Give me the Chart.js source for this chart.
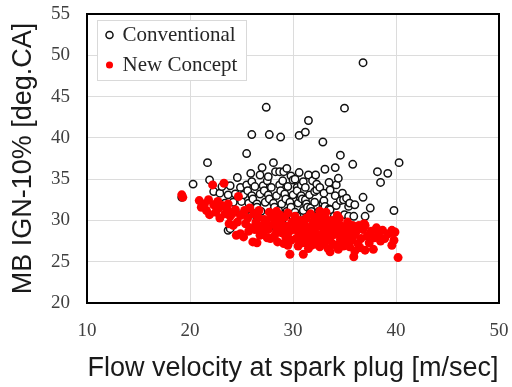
<!DOCTYPE html>
<html>
<head>
<meta charset="utf-8">
<script src="https://cdn.jsdelivr.net/npm/chart.js@4"></script>
<style>
  html, body { margin: 0; padding: 0; background: #fff; }
  #chart { display: block; }
</style>
</head>
<body>
<canvas id="chart" width="512" height="387"></canvas>
<script>
// series names and axis text
const seriesNames = ['Conventional', 'New Concept'];
const xTitle = 'Flow velocity at spark plug [m/sec]';
const yTitle = 'MB IGN-10% [deg.CA]';

// axis ranges: [min, max, step]
const xTicks = [10, 50, 10];
const yTicks = [20, 55, 5];

// [flow velocity, MB IGN-10%]
const conventional = [
  [19.2,32.8],[20.3,34.4],[21.7,37.0],[21.9,34.9],[22.3,33.5],[22.9,33.3],[23.1,34.1],[23.4,32.1],
  [23.7,33.1],[23.7,28.8],[23.9,34.2],[23.9,29.0],[24.2,32.2],[24.4,33.2],[24.4,31.1],[24.6,35.2],
  [24.9,34.0],[25.0,32.3],[25.2,33.1],[25.3,31.0],[25.5,34.3],[25.5,38.1],[25.6,33.6],[25.7,32.1],
  [25.9,35.7],[26.0,33.0],[26.0,34.7],[26.0,40.4],[26.1,31.2],[26.1,32.6],[26.3,34.1],[26.5,32.0],
  [26.5,31.6],[26.5,30.3],[26.8,33.2],[26.8,35.5],[26.8,29.8],[26.9,31.1],[27.0,36.4],[27.1,34.2],
  [27.2,33.6],[27.3,32.2],[27.4,43.7],[27.4,29.5],[27.5,34.8],[27.6,33.1],[27.6,35.3],[27.7,32.6],
  [27.7,40.4],[27.8,31.0],[27.9,34.0],[28.0,30.4],[28.1,32.1],[28.1,37.0],[28.2,31.6],[28.3,35.9],
  [28.4,33.0],[28.4,29.0],[28.6,31.2],[28.7,34.3],[28.7,35.9],[28.8,33.6],[28.8,40.1],[28.9,32.0],
  [29.0,34.8],[29.0,30.2],[29.0,29.5],[29.1,35.9],[29.2,33.2],[29.3,32.6],[29.4,31.1],[29.4,36.3],
  [29.5,34.1],[29.7,32.2],[29.8,31.6],[29.8,35.4],[30.0,33.1],[30.0,34.9],[30.0,30.3],[30.2,31.0],
  [30.2,35.0],[30.4,34.0],[30.4,33.6],[30.4,30.5],[30.5,32.1],[30.5,29.6],[30.6,40.3],[30.6,35.8],
  [30.7,32.8],[30.8,33.0],[30.8,34.3],[30.9,32.6],[31.0,31.2],[31.0,34.7],[31.2,34.0],[31.2,30.2],
  [31.2,32.5],[31.2,40.7],[31.3,32.0],[31.4,31.6],[31.5,35.5],[31.5,42.1],[31.6,33.1],[31.7,30.5],
  [31.7,31.5],[31.8,31.1],[31.9,34.8],[32.1,32.2],[32.1,33.5],[32.2,35.5],[32.3,33.7],[32.3,34.4],
  [32.5,31.1],[32.5,29.4],[32.6,34.0],[32.9,31.7],[32.9,32.1],[32.9,39.5],[33.0,32.4],[33.0,33.3],
  [33.0,30.4],[33.1,36.2],[33.1,31.7],[33.5,31.4],[33.5,34.6],[33.5,29.6],[33.6,33.7],[33.6,31.3],
  [34.0,30.5],[34.1,33.0],[34.1,36.4],[34.2,34.3],[34.2,31.8],[34.4,35.1],[34.6,32.4],[34.6,37.9],
  [34.8,33.3],[34.9,32.5],[35.0,43.6],[35.0,30.7],[35.2,32.7],[35.4,30.5],[35.4,31.7],[35.5,32.1],
  [35.8,36.8],[35.9,30.5],[36.0,31.9],[36.8,32.8],[36.8,49.1],[37.0,30.5],[37.5,31.5],[38.2,35.9],
  [38.5,34.6],[39.2,35.7],[39.8,31.2],[40.3,37.0]
];

const newConcept = [
  [19.2,33.1],[19.3,32.8],[20.9,32.4],[21.1,31.6],[21.4,32.0],[21.6,31.2],[21.9,30.7],[21.8,32.5],
  [22.2,34.3],[22.3,31.9],[22.5,31.0],[22.7,32.3],[22.9,30.3],[22.8,31.5],[23.3,34.5],[23.1,31.8],
  [23.4,30.8],[23.6,31.4],[23.8,29.6],[23.9,30.5],[23.7,32.0],[24.2,29.4],[24.1,30.8],[24.4,31.3],
  [24.5,28.2],[24.7,32.9],[24.6,29.8],[24.9,28.4],[24.9,30.6],[25.2,28.0],[25.3,31.2],[25.4,29.6],
  [25.6,30.3],[25.7,28.7],[25.9,29.1],[25.8,31.5],[26.1,27.4],[26.2,30.8],[26.3,28.9],[26.5,27.3],
  [26.4,29.8],[26.6,30.4],[26.8,28.2],[26.9,29.3],[26.7,31.2],[27.1,28.6],[27.2,30.1],[27.3,29.4],
  [27.5,27.9],[27.6,28.9],[27.8,27.8],[27.9,30.4],[27.7,31.0],[27.4,29.9],[28.1,29.5],[28.2,28.1],
  [28.3,30.2],[28.4,31.1],[28.5,27.4],[28.6,29.0],[28.8,29.8],[28.9,28.5],[28.7,30.7],[28.4,28.6],
  [29.1,27.2],[29.2,30.4],[29.3,28.0],[29.4,29.3],[29.5,30.9],[29.6,28.6],[29.7,25.9],[29.8,27.6],
  [29.9,29.8],[29.5,27.0],[29.0,29.1],[30.1,28.9],[30.2,30.5],[30.3,27.8],[30.4,29.4],[30.5,26.9],
  [30.6,28.4],[30.7,30.0],[30.8,29.0],[30.9,27.3],[31.0,25.9],[30.3,29.9],[30.8,28.1],[31.1,29.6],
  [31.2,28.6],[31.3,30.3],[31.4,27.6],[31.5,29.1],[31.6,28.0],[31.7,30.8],[31.8,27.0],[31.9,29.5],
  [31.5,26.6],[31.2,27.3],[31.9,28.4],[32.0,29.9],[32.1,28.7],[32.2,27.6],[32.3,30.4],[32.4,28.2],
  [32.5,29.3],[32.6,26.8],[32.7,27.8],[32.8,29.7],[32.9,28.5],[32.3,27.1],[32.8,30.6],[32.6,31.1],
  [33.0,27.3],[33.1,29.0],[33.2,30.2],[33.3,28.1],[33.4,26.6],[33.5,29.5],[33.6,27.6],[33.7,28.7],
  [33.8,30.0],[33.9,27.1],[33.2,31.0],[33.6,26.2],[33.9,29.2],[34.0,28.3],[34.1,29.7],[34.2,27.0],
  [34.3,28.9],[34.4,26.5],[34.5,30.2],[34.6,27.7],[34.7,29.3],[34.8,28.0],[34.9,26.9],[34.3,30.6],
  [34.6,28.6],[35.0,29.0],[35.1,27.4],[35.2,28.4],[35.3,29.8],[35.5,26.8],[35.6,28.9],[35.7,27.6],
  [35.9,25.6],[35.8,29.4],[35.4,27.9],[35.9,28.2],[36.0,26.3],[36.1,28.6],[36.3,27.2],[36.4,29.4],
  [36.6,27.8],[36.8,28.9],[36.5,26.7],[36.9,29.6],[37.0,26.4],[37.0,29.4],[37.2,28.1],[37.4,27.3],
  [37.6,28.7],[37.8,26.5],[37.9,27.9],[38.1,29.1],[38.3,28.3],[38.5,27.5],[38.9,27.8],[38.7,28.8],
  [39.3,28.4],[39.6,27.0],[39.6,28.8],[39.9,28.6],[39.8,27.6],[40.2,25.5]
];

const toPoints = arr => arr.map(p => ({ x: p[0], y: p[1] }));

const serif = '"Liberation Serif", "Times New Roman", serif';
const sans = '"Liberation Sans", Arial, sans-serif';

// box round the plot area, and a framed white legend inside it
const frames = {
  id: 'frames',
  afterLayout(chart) {
    const lg = chart.legend;
    const a = chart.chartArea;
    const dx = a.left + 11 - lg.left;
    const dy = a.top + 1.5 - lg.top;
    lg.left += dx; lg.right += dx;
    lg.top += dy; lg.bottom += dy;
  },
  beforeDatasetsDraw(chart) {
    const ctx = chart.ctx;
    const a = chart.chartArea;
    const lg = chart.legend;
    const hb = lg.legendHitBoxes;
    const l = Math.min(...hb.map(h => h.left)) - 10;
    const r = Math.max(...hb.map(h => h.left + h.width)) + 9;
    const t = hb[0].top - 4.5;
    const b = hb[hb.length - 1].top + hb[hb.length - 1].height + 4.5;
    ctx.save();
    ctx.fillStyle = '#fff';
    ctx.fillRect(l, t, r - l, b - t);
    ctx.strokeStyle = '#d9d9d9';
    ctx.lineWidth = 1;
    ctx.strokeRect(Math.round(l) + 0.5, Math.round(t) + 0.5, Math.round(r - l), Math.round(b - t));
    ctx.restore();
    lg.draw();

    ctx.save();
    ctx.strokeStyle = '#000';
    ctx.lineWidth = 2;
    ctx.strokeRect(a.left, a.top, a.right - a.left, a.bottom - a.top);
    ctx.restore();
  }
};

new Chart(document.getElementById('chart'), {
  type: 'scatter',
  data: {
    datasets: [
      {
        label: seriesNames[1],
        data: toPoints(newConcept),
        pointRadius: 4.5,
        pointBackgroundColor: '#ff0000',
        pointBorderColor: '#ff0000',
        pointBorderWidth: 0,
        pointHoverRadius: 4.5
      },
      {
        label: seriesNames[0],
        data: toPoints(conventional),
        pointRadius: 3.7,
        pointBackgroundColor: '#ffffff',
        pointBorderColor: '#111111',
        pointBorderWidth: 1.5,
        pointHoverRadius: 3.7
      }
    ]
  },
  options: {
    responsive: false,
    animation: false,
    events: [],
    layout: { padding: { top: 14, right: 13, bottom: 0, left: 0 } },
    plugins: {
      tooltip: { enabled: false },
      legend: {
        position: 'chartArea',
        align: 'start',
        reverse: true,
        labels: {
          usePointStyle: true,
          pointStyle: 'circle',
          boxWidth: 5,
          boxHeight: 5,
          padding: 9,
          color: '#262626',
          font: { family: serif, size: 21 }
        }
      }
    },
    scales: {
      x: {
        type: 'linear',
        min: xTicks[0],
        max: xTicks[1],
        afterFit: s => { s.height = 84; s.paddingLeft = 0; s.paddingRight = 0; },
        ticks: { stepSize: xTicks[2], padding: 17, color: '#404040', font: { family: serif, size: 19 } },
        grid: { color: '#dcdcdc', drawTicks: false },
        border: { display: false },
        title: {
          display: true,
          text: xTitle,
          color: '#1a1a1a',
          font: { family: sans, size: 27 },
          padding: { top: 0, bottom: 2 }
        }
      },
      y: {
        type: 'linear',
        min: yTicks[0],
        max: yTicks[1],
        afterFit: s => { s.width = 87; s.paddingTop = 0; s.paddingBottom = 0; },
        ticks: { stepSize: yTicks[2], padding: 17, color: '#404040', font: { family: serif, size: 19 } },
        grid: { color: '#dcdcdc', drawTicks: false },
        border: { display: false },
        title: {
          display: true,
          text: yTitle,
          color: '#1a1a1a',
          font: { family: sans, size: 27 },
          padding: { top: 7, bottom: 0 }
        }
      }
    }
  },
  plugins: [frames]
});
</script>
</body>
</html>
